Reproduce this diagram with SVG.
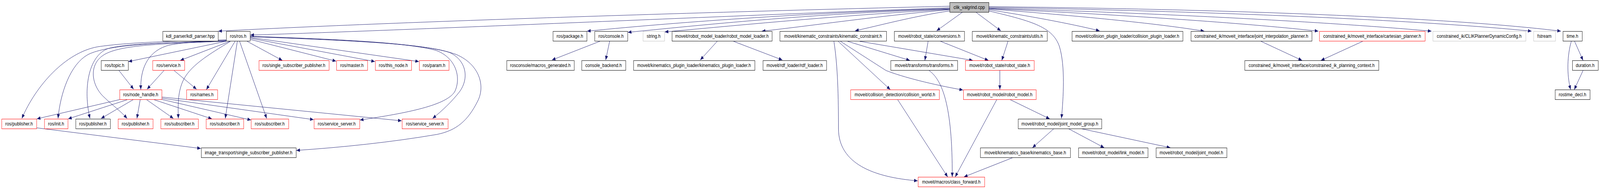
<svg xmlns="http://www.w3.org/2000/svg" width="4908" height="485" viewBox="0 0 4908 485" preserveAspectRatio="none">
<style>
svg{width:100vw;height:100vh;display:block}
rect{fill:#fff;stroke:#000;stroke-width:1}
rect.r{stroke:#ff0000}
rect.g{stroke:#bfbfbf}
rect.root{fill:#bfbfbf}
text{font-family:"Liberation Sans",Arial,sans-serif;font-size:13px;text-anchor:middle;fill:#000}
#edges path{fill:none;stroke:#191970;stroke-width:1;marker-end:url(#a)}
</style>
<defs>
<marker id="a" markerWidth="12" markerHeight="9" refX="11" refY="4.5" orient="auto" markerUnits="userSpaceOnUse"><path d="M0,0 L11,4.5 L0,9 z" fill="#191970" stroke="none"/></marker>
</defs>
<rect x="0" y="0" width="4908" height="485" style="fill:#fff;stroke:none"/>
<g id="edges">
<path d="M2913,16 C2400,26 1300,52 670,80"/>
<path d="M2913,20 C2300,38 1300,76 768,90"/>
<path d="M2913,22 C2500,32 2100,55 1801,80"/>
<path d="M2913,23 C2500,35 2200,60 1926,83"/>
<path d="M2913,24 C2600,38 2300,62 2039,82"/>
<path d="M2913,25 C2700,40 2500,65 2337,80"/>
<path d="M2913,28 C2800,42 2700,65 2623,79"/>
<path d="M2953,31 L2873,79"/>
<path d="M2993,31 L3070,79"/>
<path d="M3033,28 C3170,55 3230,70 3250,120 C3268,170 3262,250 3256,304"/>
<path d="M3033,25 C3150,40 3280,60 3373,79"/>
<path d="M3033,23 C3300,40 3550,60 3694,80"/>
<path d="M3033,22 C3500,40 3850,62 4044,80"/>
<path d="M3033,21 C3600,35 4100,58 4391,80"/>
<path d="M3033,19 C3800,30 4400,55 4698,80"/>
<path d="M3033,17 C3900,25 4500,50 4788,80"/>
<path d="M694,102 C500,106 380,110 300,120 C200,135 110,220 67,304"/>
<path d="M694,104 C480,110 330,115 270,140 C215,165 185,240 178,304"/>
<path d="M694,105 C500,110 380,112 330,125 C270,145 255,230 276,304"/>
<path d="M694,106 C500,112 370,115 320,140 C270,165 280,220 320,250 C345,270 370,285 390,304"/>
<path d="M693,106 L394,158"/>
<path d="M694,104 C600,108 540,110 510,118 C450,135 430,180 432,230"/>
<path d="M705,106 L553,155"/>
<path d="M707,106 C640,140 580,170 560,210 C545,240 546,270 547,304"/>
<path d="M721,106 L633,230"/>
<path d="M728,106 L691,304"/>
<path d="M735,106 L818,304"/>
<path d="M758,106 L866,155"/>
<path d="M767,101 L1031,157"/>
<path d="M767,98 L1150,158"/>
<path d="M767,96 L1285,158"/>
<path d="M767,94 C1000,100 1250,108 1340,130 C1400,150 1415,200 1395,235 C1370,270 1250,290 1104,308"/>
<path d="M767,94 C1000,102 1300,110 1380,135 C1430,155 1440,200 1410,235 C1385,262 1355,285 1327,304"/>
<path d="M767,93 C1000,100 1300,108 1400,140 C1470,165 1490,220 1465,260 C1435,310 1400,335 1340,345 C1200,365 1050,378 909,386"/>
<path d="M370,255 L113,305"/>
<path d="M390,256 L209,305"/>
<path d="M410,255 L310,304"/>
<path d="M430,256 L420,304"/>
<path d="M450,256 L532,304"/>
<path d="M473,256 L650,305"/>
<path d="M490,254 L770,308"/>
<path d="M496,252 L962,307"/>
<path d="M496,249 L1232,310"/>
<path d="M365,181 L410,229"/>
<path d="M503,181 L451,229"/>
<path d="M534,181 L603,229"/>
<path d="M112,328 L616,381"/>
<path d="M1840,106 L1693,154"/>
<path d="M1870,106 L1858,154"/>
<path d="M2200,106 L2148,154"/>
<path d="M2250,106 L2400,154"/>
<path d="M2558,106 C2570,170 2572,250 2572,330 C2572,420 2680,455 2815,464"/>
<path d="M2571,106 L2731,230"/>
<path d="M2578,106 L2718,181 C2770,198 2860,217 2954,231"/>
<path d="M2600,106 L2791,155"/>
<path d="M2637,106 L2984,155"/>
<path d="M2847,106 L2837,155"/>
<path d="M2885,106 L3032,155"/>
<path d="M3092,106 L3073,155"/>
<path d="M2850,181 C2890,205 2922,270 2921,454"/>
<path d="M2753,255 L2907,454"/>
<path d="M3067,181 L3067,230"/>
<path d="M3058,255 L2930,454"/>
<path d="M3097,255 L3220,305"/>
<path d="M3233,330 L3167,379"/>
<path d="M3108,404 L2957,454"/>
<path d="M3277,330 L3387,379"/>
<path d="M3315,330 L3590,379"/>
<path d="M3868,106 L3994,155"/>
<path d="M4180,106 L4052,155"/>
<path d="M4820,106 C4808,140 4805,190 4818,230"/>
<path d="M4830,106 L4856,155"/>
<path d="M4856,181 L4829,230"/>
</g>
<g id="n0"><rect class="root" x="2913.5" y="6.5" width="120" height="25"/><text x="2973" y="23">clik_valgrind.cpp</text></g>
<g id="n1"><rect x="499.5" y="80.5" width="170" height="25"/><text x="584" y="97">kdl_parser/kdl_parser.hpp</text></g>
<g id="n2"><rect x="694.5" y="80.5" width="73" height="25"/><text x="730.5" y="97">ros/ros.h</text></g>
<g id="n3"><rect x="1696.5" y="80.5" width="104" height="25"/><text x="1748" y="97">ros/package.h</text></g>
<g id="n4"><rect x="1824.5" y="80.5" width="101" height="25"/><text x="1874.5" y="97">ros/console.h</text></g>
<g id="n5"><rect class="g" x="1972.5" y="80.5" width="66" height="25"/><text x="2005" y="97">string.h</text></g>
<g id="n6"><rect x="2061.5" y="80.5" width="307" height="25"/><text x="2214.5" y="97">moveit/robot_model_loader/robot_model_loader.h</text></g>
<g id="n7"><rect x="2392.5" y="80.5" width="327" height="25"/><text x="2555.5" y="97">moveit/kinematic_constraints/kinematic_constraint.h</text></g>
<g id="n8"><rect x="2743.5" y="80.5" width="215" height="25"/><text x="2850.5" y="97">moveit/robot_state/conversions.h</text></g>
<g id="n9"><rect x="2982.5" y="80.5" width="230" height="25"/><text x="3097" y="97">moveit/kinematic_constraints/utils.h</text></g>
<g id="n10"><rect x="3288.5" y="80.5" width="340" height="25"/><text x="3458" y="97">moveit/collision_plugin_loader/collision_plugin_loader.h</text></g>
<g id="n11"><rect x="3653.5" y="80.5" width="371" height="25"/><text x="3838.5" y="97">constrained_ik/moveit_interface/joint_interpolation_planner.h</text></g>
<g id="n12"><rect class="r" x="4047.5" y="80.5" width="324" height="25"/><text x="4209" y="97">constrained_ik/moveit_interface/cartesian_planner.h</text></g>
<g id="n13"><rect class="g" x="4395.5" y="80.5" width="285" height="25"/><text x="4537.5" y="97">constrained_ik/CLIKPlannerDynamicConfig.h</text></g>
<g id="n14"><rect class="g" x="4704.5" y="80.5" width="67" height="25"/><text x="4737.5" y="97">fstream</text></g>
<g id="n15"><rect x="4794.5" y="80.5" width="59" height="25"/><text x="4823.5" y="97">time.h</text></g>
<g id="n16"><rect x="310.5" y="155.5" width="83" height="25"/><text x="351.5" y="172">ros/topic.h</text></g>
<g id="n17"><rect class="r" x="468.5" y="155.5" width="98" height="25"/><text x="517" y="172">ros/service.h</text></g>
<g id="n18"><rect class="r" x="794.5" y="155.5" width="215" height="25"/><text x="901.5" y="172">ros/single_subscriber_publisher.h</text></g>
<g id="n19"><rect class="r" x="1032.5" y="155.5" width="95" height="25"/><text x="1079.5" y="172">ros/master.h</text></g>
<g id="n20"><rect class="r" x="1151.5" y="155.5" width="111" height="25"/><text x="1206.5" y="172">ros/this_node.h</text></g>
<g id="n21"><rect class="r" x="1286.5" y="155.5" width="91" height="25"/><text x="1331.5" y="172">ros/param.h</text></g>
<g id="n22"><rect x="1554.5" y="155.5" width="207" height="25"/><text x="1657.5" y="172">rosconsole/macros_generated.h</text></g>
<g id="n23"><rect x="1784.5" y="155.5" width="135" height="25"/><text x="1851.5" y="172">console_backend.h</text></g>
<g id="n24"><rect x="1943.5" y="155.5" width="372" height="25"/><text x="2129" y="172">moveit/kinematics_plugin_loader/kinematics_plugin_loader.h</text></g>
<g id="n25"><rect x="2340.5" y="155.5" width="195" height="25"/><text x="2437.5" y="172">moveit/rdf_loader/rdf_loader.h</text></g>
<g id="n26"><rect x="2732.5" y="155.5" width="205" height="25"/><text x="2834.5" y="172">moveit/transforms/transforms.h</text></g>
<g id="n27"><rect class="r" x="2961.5" y="155.5" width="211" height="25"/><text x="3066.5" y="172">moveit/robot_state/robot_state.h</text></g>
<g id="n28"><rect x="3818.5" y="155.5" width="411" height="25"/><text x="4023.5" y="172">constrained_ik/moveit_interface/constrained_ik_planning_context.h</text></g>
<g id="n29"><rect x="4823.5" y="155.5" width="79" height="25"/><text x="4862.5" y="172">duration.h</text></g>
<g id="n30"><rect class="r" x="367.5" y="230.5" width="129" height="25"/><text x="431.5" y="247">ros/node_handle.h</text></g>
<g id="n31"><rect class="r" x="572.5" y="230.5" width="95" height="25"/><text x="619.5" y="247">ros/names.h</text></g>
<g id="n32"><rect class="r" x="2609.5" y="230.5" width="272" height="25"/><text x="2745" y="247">moveit/collision_detection/collision_world.h</text></g>
<g id="n33"><rect class="r" x="2955.5" y="230.5" width="223" height="25"/><text x="3066.5" y="247">moveit/robot_model/robot_model.h</text></g>
<g id="n34"><rect x="4770.5" y="230.5" width="107" height="25"/><text x="4823.5" y="247">rostime_decl.h</text></g>
<g id="n35"><rect class="r" x="5.5" y="305.5" width="107" height="25"/><text x="58.5" y="322">ros/publisher.h</text></g>
<g id="n36"><rect class="r" x="136.5" y="305.5" width="72" height="25"/><text x="172" y="322">ros/init.h</text></g>
<g id="n37"><rect x="232.5" y="305.5" width="106" height="25"/><text x="285" y="322">ros/publisher.h</text></g>
<g id="n38"><rect class="r" x="362.5" y="305.5" width="107" height="25"/><text x="415.5" y="322">ros/publisher.h</text></g>
<g id="n39"><rect class="r" x="493.5" y="305.5" width="115" height="25"/><text x="550.5" y="322">ros/subscriber.h</text></g>
<g id="n40"><rect class="r" x="632.5" y="305.5" width="115" height="25"/><text x="689.5" y="322">ros/subscriber.h</text></g>
<g id="n41"><rect class="r" x="770.5" y="305.5" width="115" height="25"/><text x="827.5" y="322">ros/subscriber.h</text></g>
<g id="n42"><rect class="r" x="963.5" y="305.5" width="140" height="25"/><text x="1033" y="322">ros/service_server.h</text></g>
<g id="n43"><rect class="r" x="1233.5" y="305.5" width="141" height="25"/><text x="1303.5" y="322">ros/service_server.h</text></g>
<g id="n44"><rect x="3123.5" y="305.5" width="256" height="25"/><text x="3251" y="322">moveit/robot_model/joint_model_group.h</text></g>
<g id="n45"><rect x="617.5" y="379.5" width="291" height="25"/><text x="762.5" y="396">image_transport/single_subscriber_publisher.h</text></g>
<g id="n46"><rect x="3007.5" y="379.5" width="276" height="25"/><text x="3145" y="396">moveit/kinematics_base/kinematics_base.h</text></g>
<g id="n47"><rect x="3308.5" y="379.5" width="213" height="25"/><text x="3414.5" y="396">moveit/robot_model/link_model.h</text></g>
<g id="n48"><rect x="3546.5" y="379.5" width="217" height="25"/><text x="3654.5" y="396">moveit/robot_model/joint_model.h</text></g>
<g id="n49"><rect class="r" x="2816.5" y="454.5" width="204" height="25"/><text x="2918" y="471">moveit/macros/class_forward.h</text></g>
</svg>
